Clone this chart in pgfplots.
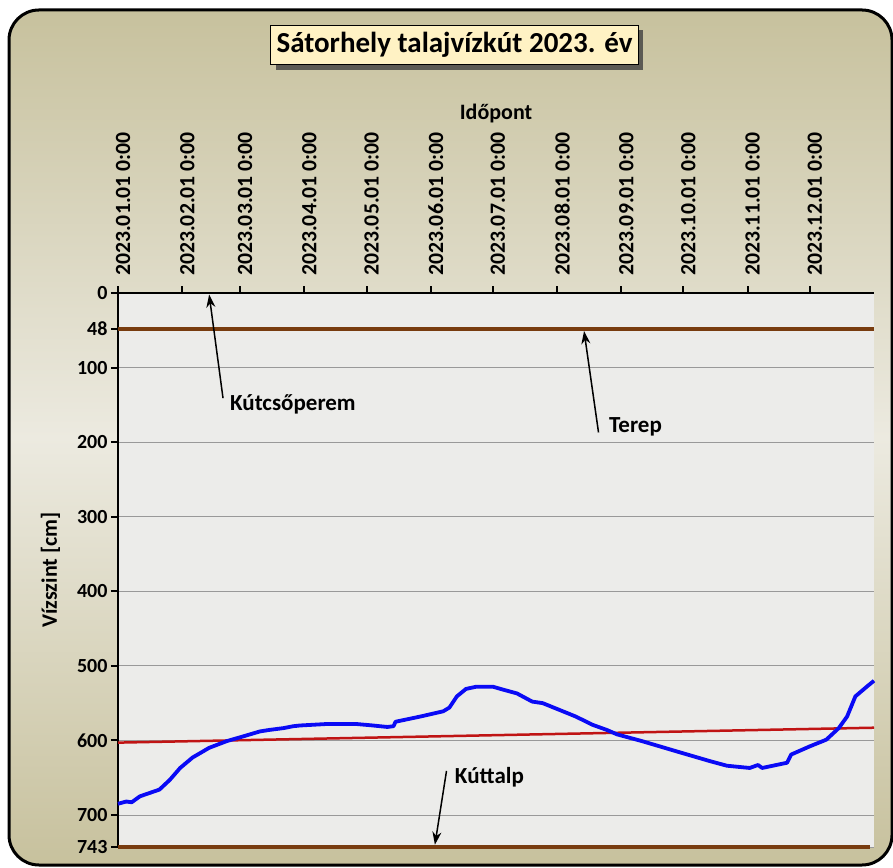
\documentclass[border=0pt]{standalone}
\usepackage{fontspec}
\setmainfont{Carlito}
\usepackage{pgfplots}
\pgfplotsset{compat=1.18}
\usetikzlibrary{arrows.meta,shadows}
\definecolor{khaki}{RGB}{199,193,157}
\definecolor{khakilight}{RGB}{236,234,224}
\definecolor{plotbg}{RGB}{236,236,234}
\definecolor{titlebg}{RGB}{255,242,196}
\definecolor{brownline}{RGB}{120,60,15}
\definecolor{redline}{RGB}{192,20,20}
\definecolor{blueline}{RGB}{10,10,245}
\begin{document}
\begin{tikzpicture}
\useasboundingbox (0,0) rectangle (893pt,867pt);
\begin{scope}
\clip (0,0) rectangle (893pt,867pt);
\shade[top color=khaki, bottom color=khaki, middle color=khakilight, rounded corners=30pt]
  (9pt,2pt) rectangle (892pt,857pt);
\draw[black, line width=3pt, rounded corners=30pt] (9pt,2pt) rectangle (892pt,857pt);
\end{scope}
\node[fill=titlebg, draw=black, line width=1.5pt, inner xsep=6pt, inner ysep=7pt,
  drop shadow={shadow xshift=5pt, shadow yshift=-5pt, fill=black!75, opacity=0.8},
  font=\bfseries\fontsize{29}{33}\selectfont] at (454.5pt,822pt) {Sátorhely talajvízkút 2023. év};
\begin{axis}[
  at={(118pt,20pt)}, anchor=south west, scale only axis,
  width=756pt, height=554pt,
  xmin=0, xmax=365, ymin=0, ymax=743, y dir=reverse,
  clip=false,
  axis x line*=top, axis y line*=left,
  axis line style={line width=2.5pt, black},
  axis background/.style={fill=plotbg},
  tick align=outside, major tick length=7pt,
  tick style={line width=2pt, black},
  xtick={0,31,59,90,120,151,181,212,243,273,304,334},
  xticklabels={2023.01.01 0:00,2023.02.01 0:00,2023.03.01 0:00,2023.04.01 0:00,2023.05.01 0:00,2023.06.01 0:00,2023.07.01 0:00,2023.08.01 0:00,2023.09.01 0:00,2023.10.01 0:00,2023.11.01 0:00,2023.12.01 0:00},
  xticklabel style={rotate=90, anchor=west, font=\bfseries\fontsize{21.7}{25}\selectfont, inner sep=0pt, xshift=1pt, yshift=-5pt},
  xticklabel shift=9pt,
  ytick={0,48,100,200,300,400,500,600,700,743},
  yticklabels={0,48,100,200,300,400,500,600,700,743},
  yticklabel style={font=\bfseries\fontsize{20}{24}\selectfont},
  ymajorgrids, grid style={black!40, line width=0.8pt},
  xlabel={Időpont}, ylabel={Vízszint [cm]},
  label style={font=\bfseries\fontsize{22}{26}\selectfont},
  ylabel shift=10pt, xlabel shift=6pt,
]
\addplot[brownline, line width=4pt] coordinates {(0,48) (365,48)};
\addplot[brownline, line width=4pt] coordinates {(0,743) (363,743)};
\addplot[redline, line width=2.5pt] coordinates {(0,603) (365,583)};
\addplot[blueline, line width=3.8pt, line join=round] coordinates {
(0,685) (4,682) (6.6,683) (10.6,675) (20,666) (25,653) (30,637) (36,623) (44,610) (52.5,601) (60,595) (68.5,588) (73,586) (80,583.5) (84.6,581) (88,580) (101,578) (104,578) (115,578) (123,580) (130,582) (133,581) (134,575) (146,568) (157,561) (160,556) (163.6,541) (168,531) (173,528) (181,528) (186,532) (192.6,537) (200,548) (205,550) (213,559) (221,568) (229,579) (236,586) (241,592) (253,601) (270,615) (286,628) (294,634) (305,637) (309,633) (311,637) (323,630) (325,619) (334,608) (342,599) (348,583.5) (352,568) (356,541) (361.5,528) (365,520)};
\draw[-{Stealth[length=13pt,width=9pt]}, line width=1.5pt] (axis cs:50.7,141) -- (axis cs:44,2);
\node[anchor=west, font=\bfseries\fontsize{23}{27}\selectfont, inner sep=0pt] at (axis cs:54,150) {Kútcsőperem};
\draw[-{Stealth[length=13pt,width=9pt]}, line width=1.5pt] (axis cs:232,187) -- (axis cs:225,51);
\node[anchor=west, font=\bfseries\fontsize{23}{27}\selectfont, inner sep=0pt] at (axis cs:237,180) {Terep};
\draw[-{Stealth[length=13pt,width=9pt]}, line width=1.5pt] (axis cs:158.6,641) -- (axis cs:153,740);
\node[anchor=west, font=\bfseries\fontsize{23}{27}\selectfont, inner sep=0pt] at (axis cs:162.6,650) {Kúttalp};
\end{axis}
\end{tikzpicture}
\end{document}
